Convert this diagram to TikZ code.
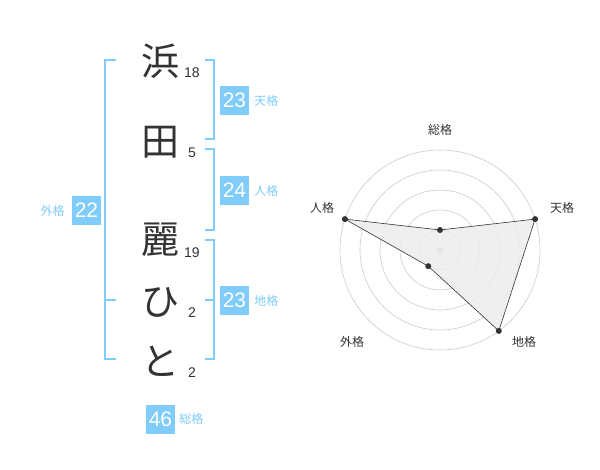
\documentclass[tikz,border=0pt]{standalone}
\usepackage{fontspec}
\setmainfont{Liberation Sans}
\newfontfamily\jpfont{Noto Sans CJK JP}
\usetikzlibrary{positioning}
\definecolor{kakublue}{RGB}{128,204,250}
\definecolor{inkgray}{RGB}{51,51,51}
\tikzset{
  kanji/.style={font=\jpfont\fontsize{38}{38}\selectfont, text=inkgray, inner sep=0},
  stroke/.style={font=\fontsize{14}{14}\selectfont, text=inkgray, inner sep=0},
  kakubox/.style={fill=kakublue, text=white, minimum width=29, minimum height=29, inner sep=0, font=\fontsize{21}{21}\selectfont},
  kakuname/.style={font=\jpfont\fontsize{12}{12}\selectfont, text=kakublue, inner sep=0},
  bracket/.style={draw=kakublue, line width=2},
  ring/.style={draw=gray!40, line width=0.6},
  axisname/.style={font=\jpfont\fontsize{12}{12}\selectfont, text=inkgray, inner sep=0},
  dot/.style={circle, fill=inkgray, inner sep=0, minimum size=6}
}
\begin{document}
\begin{tikzpicture}[x=1pt,y=-1pt]
\useasboundingbox[fill=white] (0,0) rectangle (600,470);
% name characters and stroke counts
\node[kanji] (c1) at (160,61) {浜};
\node[kanji] (c2) at (160,142) {田};
\node[kanji] (c3) at (160,240) {麗};
\node[kanji] (c4) at (160,302) {ひ};
\node[kanji] (c5) at (160,361) {と};
\node[stroke] (s1) at (192,73) {18};
\node[stroke] (s2) at (192,153) {5};
\node[stroke] (s3) at (192,253) {19};
\node[stroke] (s4) at (192,313) {2};
\node[stroke] (s5) at (192,373) {2};
% brackets
\draw[bracket](116,60) -- (105,60) -- (105,359) -- (116,359);
\draw[bracket](105,300) -- (116,300);
\draw[bracket](205,60) -- (214,60) -- (214,139) -- (205,139);
\draw[bracket](205,149) -- (214,149) -- (214,230) -- (205,230);
\draw[bracket](205,240) -- (214,240) -- (214,359) -- (205,359);
\draw[bracket](214,300) -- (205,300);
% boxes
\node[kakubox] (ten) at (234.5,100.5) {23};
\node[kakuname, right=5 of ten] (tenname) {天格};
\node[kakubox] (jin) at (234.5,190.5) {24};
\node[kakuname, right=5 of jin] (jinname) {人格};
\node[kakubox] (chi) at (234.5,300.5) {23};
\node[kakuname, right=5 of chi] (chiname) {地格};
\node[kakubox] (gai) at (86.5,210.5) {22};
\node[kakuname, left=7 of gai] (gainame) {外格};
\node[kakubox] (sou) at (160.5,419) {46};
\node[kakuname, right=4 of sou] (souname) {総格};
% radar chart
\coordinate (o) at (440,250);
\foreach \r in {20,40,60,80,100}
  \draw[ring] (o) circle (\r pt);
\fill[gray!40] (o) circle (3pt);
\coordinate (rsou) at ([shift={(90:20pt)}]o);
\coordinate (rten) at ([shift={(18:100pt)}]o);
\coordinate (rchi) at ([shift={(-54:100pt)}]o);
\coordinate (rgai) at ([shift={(-126:20pt)}]o);
\coordinate (rjin) at ([shift={(162:100pt)}]o);
\draw[fill=gray!15, fill opacity=0.8, draw=inkgray, line width=0.6] (rsou) -- (rten) -- (rchi) -- (rgai) -- (rjin) -- cycle;
\foreach \p in {rsou,rten,rchi,rgai,rjin}
  \node[dot] at (\p) {};
\node[axisname] (asou) at (440,130) {総格};
\node[axisname] (aten) at (562,208) {天格};
\node[axisname] (ajin) at (322,208) {人格};
\node[axisname] (agai) at (352,342) {外格};
\node[axisname] (achi) at (524,342) {地格};
\end{tikzpicture}
\end{document}
